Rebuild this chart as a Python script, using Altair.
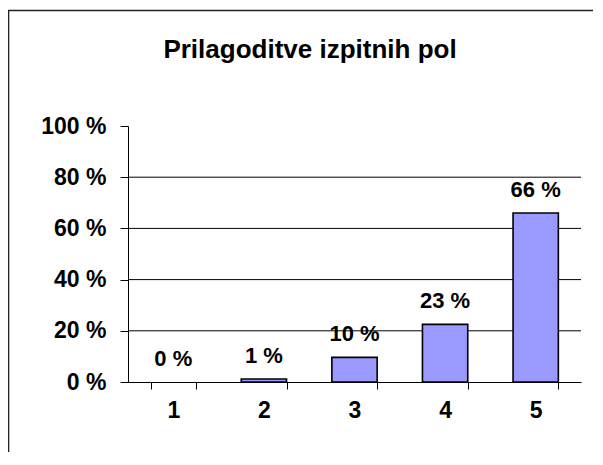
import altair as alt
import pandas as pd

categories = ["1", "2", "3", "4", "5"]
shares = [0.0, 1.2, 9.6, 22.5, 66.0]
share_labels = ["0 %", "1 %", "10 %", "23 %", "66 %"]
gridlines = [20, 40, 60, 80]
y_ticks = [0, 20, 40, 60, 80, 100]
title_text = "Prilagoditve izpitnih pol"

df = pd.DataFrame({"ocena": categories, "delez": shares, "oznaka": share_labels})
grid_df = pd.DataFrame({"g": gridlines})

FONT = "Liberation Sans"

x_enc = alt.X(
    "ocena:N",
    sort=categories,
    scale=alt.Scale(paddingInner=0.5, paddingOuter=0.25),
    axis=alt.Axis(
        title=None, labelAngle=0, tickBand="extent", domainColor="black",
        tickColor="black", tickSize=7, labelFontSize=23, labelFontWeight="bold",
        labelFont=FONT, labelColor="black", labelPadding=10,
    ),
)
y_scale = alt.Scale(domain=[0, 100], nice=False)
y_axis = alt.Axis(
    title=None, values=y_ticks, labelExpr="datum.value + ' %'", grid=False,
    domainColor="black", tickColor="black", tickSize=8, labelFontSize=23,
    labelFontWeight="bold", labelFont=FONT, labelColor="black", labelPadding=14,
)

grid = alt.Chart(grid_df).mark_rule(color="black", strokeWidth=1).encode(
    y=alt.Y("g:Q", scale=y_scale, axis=y_axis)
)

bars = alt.Chart(df).transform_filter("datum.delez > 0").mark_bar(
    fill="#9999FF", stroke="black", strokeWidth=1.6
).encode(
    x=x_enc,
    y=alt.Y("delez:Q", scale=y_scale, axis=y_axis),
)

texts = alt.Chart(df).mark_text(
    dy=-16, baseline="alphabetic", fontSize=22, fontWeight="bold", font=FONT, color="black"
).encode(
    x=alt.X("ocena:N", sort=categories),
    y=alt.Y("delez:Q", scale=y_scale),
    text="oznaka:N",
)

title = alt.Chart(alt.Data(values=[{"t": title_text}])).mark_text(
    baseline="alphabetic", align="center", fontSize=26, fontWeight="bold",
    font=FONT, color="black"
).encode(
    x=alt.value(182), y=alt.value(-68), text="t:N"
)

frame = alt.Chart(alt.Data(values=[{}])).mark_rect(
    fill=None, stroke="#222222", strokeWidth=1.6
).encode(
    x=alt.value(-119.5), x2=alt.value(700), y=alt.value(-115.5), y2=alt.value(600)
)

chart = alt.layer(grid, bars, texts, title, frame).properties(
    width=453,
    height=256,
    background="white",
    padding={"left": 120, "top": 118, "right": 12, "bottom": 70},
    autosize=alt.AutoSizeParams(type="none"),
).configure_view(stroke=None)

chart.save("out.html", embed_options={"renderer": "svg", "actions": False})
